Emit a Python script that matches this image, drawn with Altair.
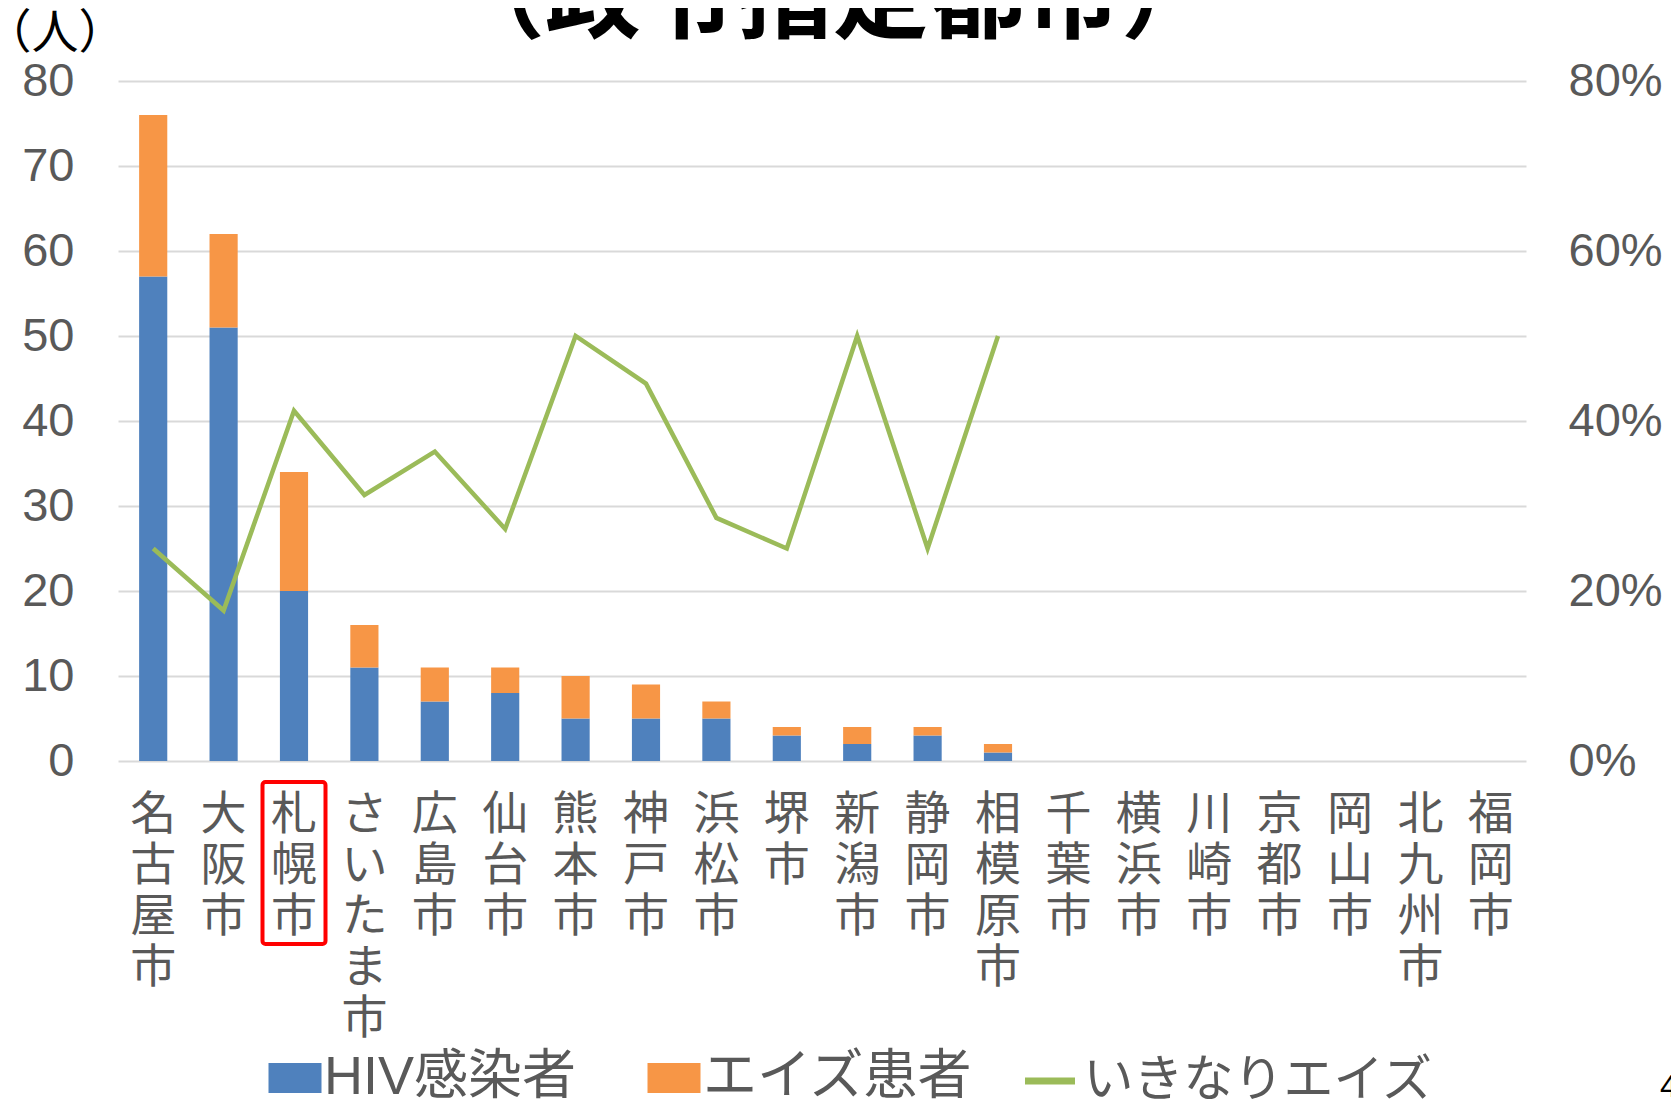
import altair as alt
import pandas as pd

# ---- data ----
cities = ["名古屋市", "大阪市", "札幌市", "さいたま市", "広島市", "仙台市", "熊本市",
          "神戸市", "浜松市", "堺市", "新潟市", "静岡市", "相模原市", "千葉市",
          "横浜市", "川崎市", "京都市", "岡山市", "北九州市", "福岡市"]
hiv = [57, 51, 20, 11, 7, 8, 5, 5, 5, 3, 2, 3, 1, 0, 0, 0, 0, 0, 0, 0]
aids = [19, 11, 14, 5, 4, 3, 5, 4, 2, 1, 2, 1, 1, 0, 0, 0, 0, 0, 0, 0]
ikinari_cities = ["名古屋市", "大阪市", "札幌市", "さいたま市", "広島市", "仙台市", "熊本市",
                  "神戸市", "浜松市", "堺市", "新潟市", "静岡市", "相模原市"]
ikinari_rate = [0.25, 0.177, 0.412, 0.313, 0.364, 0.273, 0.50, 0.444, 0.286, 0.25, 0.50, 0.25, 0.50]

bar_series = ["HIV感染者", "エイズ患者"]
bar_colors = ["#4F81BD", "#F79646"]
line_series = ["いきなりエイズ"]
line_colors = ["#9BBB59"]
left_ticks = [0, 10, 20, 30, 40, 50, 60, 70, 80]
right_ticks = [0, 0.2, 0.4, 0.6, 0.8]
title_text = ["（政令指定都市）"]
unit_text = ["（人）"]
page_text = ["4"]
highlight_city = ["札幌市"]

# ---- tables ----
rows = []
for c, h, a in zip(cities, hiv, aids):
    rows.append({"city": c, "series": bar_series[0], "value": h, "ord": 0})
    rows.append({"city": c, "series": bar_series[1], "value": a, "ord": 1})
df_bar = pd.DataFrame(rows)
df_line = pd.DataFrame({"city": ikinari_cities, "rate": ikinari_rate, "series": line_series[0]})
df_box = pd.DataFrame({"city": highlight_city})

GRAY = "#595959"
LATIN = "Liberation Sans, Arial, Noto Sans CJK JP"
CJK = "Noto Sans CJK JP"

x_enc = alt.X(
    "city:N", sort=cities,
    scale=alt.Scale(domain=cities, paddingInner=0.6, paddingOuter=0.3),
    axis=alt.Axis(title=None, labelAngle=0, labelExpr="split(datum.label, '')",
                  labelFont=CJK, labelFontSize=46, labelLineHeight=51,
                  labelBaseline="top", labelAlign="center", labelPadding=31,
                  labelColor=GRAY, ticks=False, domain=False, labelLimit=400,
                  labelOverlap=False, labelBound=False),
)

bar_legend = alt.Legend(
    title=None, orient="none", legendX=150, legendY=970, direction="horizontal",
    labelFont=LATIN, labelFontSize=54, labelColor=GRAY, labelLimit=600,
    symbolType="M-1,-0.57H1V0.57H-1Z", symbolSize=2809, labelOffset=2,
    columnPadding=70, padding=0, symbolStrokeWidth=0, symbolOpacity=1,
)
line_legend = alt.Legend(
    title=None, orient="none", legendX=903.5, legendY=971.5, direction="horizontal",
    labelFont=LATIN, labelFontSize=50, labelColor=GRAY, labelLimit=600,
    symbolType="stroke", symbolSize=2500, symbolStrokeWidth=7,
    symbolStrokeColor="#9BBB59", labelOffset=5, padding=0, symbolOpacity=1,
)

bars = alt.Chart(df_bar).mark_bar().encode(
    x=x_enc,
    y=alt.Y("value:Q", stack="zero",
            scale=alt.Scale(domain=[0, 80], nice=False),
            axis=alt.Axis(title=None, values=left_ticks, grid=True, gridColor="#D9D9D9",
                          gridWidth=2, domain=False, ticks=False, labelFont=LATIN,
                          labelFontSize=47, labelColor=GRAY, labelPadding=44)),
    color=alt.Color("series:N", scale=alt.Scale(domain=bar_series, range=bar_colors),
                    legend=bar_legend),
    order=alt.Order("ord:Q"),
)

line = alt.Chart(df_line).mark_line(strokeWidth=4.5).encode(
    x=x_enc,
    y=alt.Y("rate:Q", scale=alt.Scale(domain=[0, 0.8], nice=False),
            axis=alt.Axis(title=None, orient="right", format=".0%", values=right_ticks,
                          grid=False, domain=False, ticks=False, labelFont=LATIN,
                          labelFontSize=47, labelColor=GRAY, labelPadding=42)),
    color=alt.Color("series:N", scale=alt.Scale(domain=line_series, range=line_colors),
                    legend=line_legend),
)

box = alt.Chart(df_box).mark_bar(size=63, fill="transparent", stroke="#FF0000",
                                 strokeWidth=4, cornerRadius=3).encode(
    x=x_enc, y=alt.value(701), y2=alt.value(863),
)

title = alt.Chart(pd.DataFrame({"t": title_text})).mark_text(
    font=CJK, fontSize=96, fontWeight="bold", color="black", align="center",
    baseline="alphabetic").encode(x=alt.value(715), y=alt.value(-51), text="t:N")

unit = alt.Chart(pd.DataFrame({"t": unit_text})).mark_text(
    font=CJK, fontSize=47, color="black", align="center",
    baseline="alphabetic").encode(x=alt.value(-63), y=alt.value(-33), text="t:N")

page = alt.Chart(pd.DataFrame({"t": page_text})).mark_text(
    font=LATIN, fontSize=32, color="black", align="left",
    baseline="alphabetic").encode(x=alt.value(1542), y=alt.value(1016), text="t:N")

chart = alt.layer(bars, line, box, title, unit, page).resolve_scale(
    y="independent", color="independent"
).properties(
    width=1408, height=680,
    padding={"left": 110, "top": 73, "right": 145, "bottom": 340},
    autosize=alt.AutoSizeParams(type="none"),
).configure_view(strokeWidth=0)

chart.save("out.html", embed_options={"renderer": "svg", "actions": False})
